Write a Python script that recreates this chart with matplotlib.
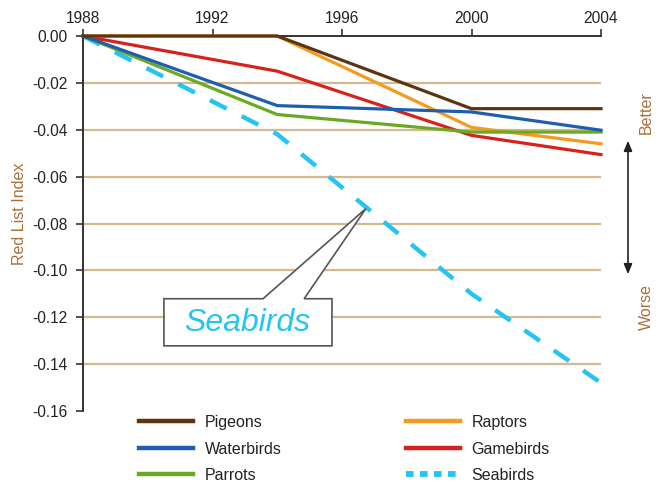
import matplotlib
matplotlib.use('Agg')
import matplotlib.pyplot as plt
from matplotlib.lines import Line2D
from matplotlib.patches import Polygon, FancyArrowPatch

plt.rcParams['font.family'] = ['Liberation Sans', 'DejaVu Sans']

years = [1988, 1994, 2000, 2004]
pigeons = [0.0, 0.0, -0.031, -0.031]
raptors = [0.0, 0.0, -0.039, -0.046]
waterbirds = [0.0, -0.0297, -0.0324, -0.0402]
gamebirds = [0.0, -0.015, -0.0424, -0.0506]
parrots = [0.0, -0.0335, -0.041, -0.041]
seabirds = [0.0, -0.0419, -0.110, -0.148]

xticks = [1988, 1992, 1996, 2000, 2004]
xticklabels = ['1988', '1992', '1996', '2000', '2004']
yticks = [0.00, -0.02, -0.04, -0.06, -0.08, -0.10, -0.12, -0.14, -0.16]
yticklabels = ['0.00', '-0.02', '-0.04', '-0.06', '-0.08', '-0.10', '-0.12', '-0.14', '-0.16']

C_PIG = '#5b3412'
C_RAP = '#f39a1f'
C_WAT = '#1e5eae'
C_GAM = '#d8211c'
C_PAR = '#6aaa22'
C_SEA = '#25c4f2'
C_GRID = '#d6b88f'
C_BROWN = '#a8703a'
C_AX = '#333333'

W, H = 662, 483
fig = plt.figure(figsize=(W / 100, H / 100), dpi=100)
ax = fig.add_axes([83 / W, 1 - 411 / H, (601 - 83) / W, (411 - 36) / H])

ax.set_xlim(1988, 2004)
ax.set_ylim(-0.16, 0.0)

for y in yticks[1:-1]:
    ax.axhline(y, color=C_GRID, lw=1.6, zorder=1)

lw = 2.3
ax.plot(years, seabirds, color=C_SEA, lw=3.2, dashes=(4.2, 3.8), zorder=2, clip_on=False)
ax.plot(years, gamebirds, color=C_GAM, lw=lw, zorder=3, clip_on=False)
ax.plot(years, raptors, color=C_RAP, lw=lw, zorder=3, clip_on=False)
ax.plot(years, parrots, color=C_PAR, lw=lw, zorder=3, clip_on=False)
ax.plot(years, waterbirds, color=C_WAT, lw=lw, zorder=3, clip_on=False)
ax.plot(years, pigeons, color=C_PIG, lw=lw, zorder=4, clip_on=False)

ax.spines['bottom'].set_visible(False)
ax.spines['right'].set_visible(False)
for s in ('top', 'left'):
    ax.spines[s].set_color(C_AX)
    ax.spines[s].set_linewidth(1.4)

ax.xaxis.tick_top()
ax.set_xticks(xticks)
ax.set_xticklabels(xticklabels)
ax.set_yticks(yticks)
ax.set_yticklabels(yticklabels)
ax.tick_params(axis='both', direction='out', length=5, width=1.2, color=C_AX,
               labelcolor='#222222', labelsize=11.2)
ax.tick_params(axis='y', pad=6)
ax.tick_params(axis='x', pad=2)

fig.text(20 / W, 1 - 214 / H, 'Red List Index', rotation=90, color=C_BROWN,
         fontsize=11.5, ha='center', va='center')

# Callout for Seabirds
callout = Polygon([(1990.50, -0.1121), (1993.56, -0.1121), (1996.74, -0.0736),
                   (1994.83, -0.1121), (1995.69, -0.1121), (1995.69, -0.1322),
                   (1990.50, -0.1322)], closed=True, facecolor='white',
                  edgecolor='#555555', lw=1.2, zorder=6, clip_on=False)
ax.add_patch(callout)
ax.text(1993.07, -0.1226, 'Seabirds', color=C_SEA, fontsize=23, style='italic',
        ha='center', va='center', zorder=7)

# Better / Worse arrow
fig.add_artist(FancyArrowPatch(
    (628 / W, 1 - 277 / H), (628 / W, 1 - 138 / H), transform=fig.transFigure,
    arrowstyle='<|-|>,head_length=6,head_width=2.5', color='#222222', lw=1.2,
    mutation_scale=1))
fig.text(646 / W, 1 - 113 / H, 'Better', rotation=90, color=C_BROWN,
         fontsize=11.5, ha='center', va='center')
fig.text(646 / W, 1 - 307 / H, 'Worse', rotation=90, color=C_BROWN,
         fontsize=11.5, ha='center', va='center')

# Legends
def h(color, lw=3.2, **kw):
    return Line2D([], [], color=color, lw=lw, **kw)

leg_kw = dict(frameon=False, fontsize=11.5, handlelength=3.4, handletextpad=0.7,
              labelspacing=0.72, borderpad=0, borderaxespad=0, loc='upper left',
              bbox_transform=fig.transFigure)
leg1 = fig.legend([h(C_PIG), h(C_WAT), h(C_PAR)],
                  ['Pigeons', 'Waterbirds', 'Parrots'],
                  bbox_to_anchor=(139 / W, 1 - 415 / H), **leg_kw)
for t in leg1.get_texts():
    t.set_color('#222222')
leg2 = fig.legend([h(C_RAP), h(C_GAM), h(C_SEA, lw=4.2, dashes=(1.3, 1.1))],
                  ['Raptors', 'Gamebirds', 'Seabirds'],
                  bbox_to_anchor=(406 / W, 1 - 415 / H), **leg_kw)
for t in leg2.get_texts():
    t.set_color('#222222')

fig.savefig('out.png', dpi=100)
